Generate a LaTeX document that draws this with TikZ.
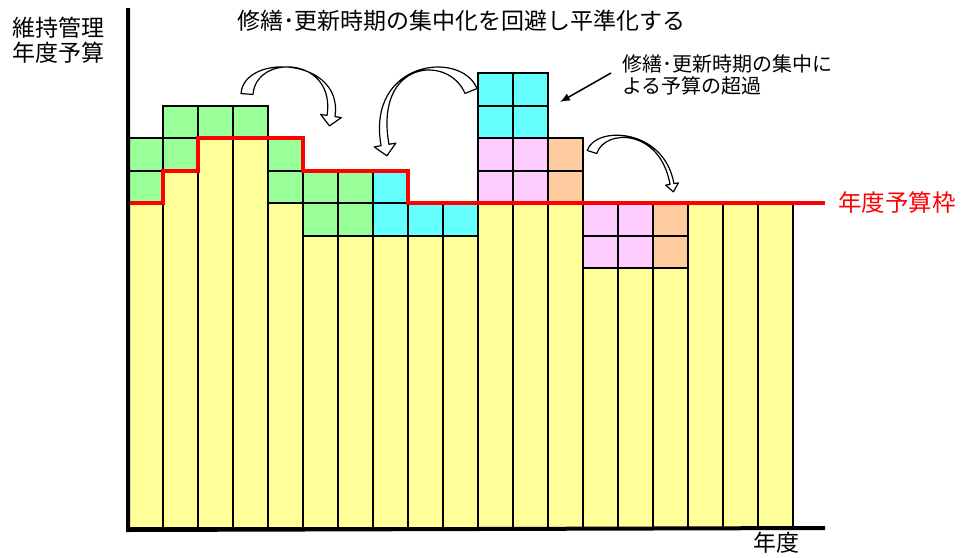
\documentclass[tikz,border=0pt]{standalone}
\usepackage{fontspec}
\setmainfont{Noto Sans CJK JP}
\usetikzlibrary{calc,arrows.meta}
\definecolor{cgreen}{RGB}{153,255,153}
\definecolor{cyellow}{RGB}{255,255,153}
\definecolor{ccyan}{RGB}{102,255,255}
\definecolor{cpink}{RGB}{255,204,255}
\definecolor{corange}{RGB}{255,204,160}
\definecolor{cred}{RGB}{255,0,0}
% tapered hollow curved arrow
% #1 name, #2 start, #3 c1, #4 c2, #5 end, #6 tail half width, #7 end half width, #8 head half width, #9 head length
\newcommand{\hollowarr}[9]{%
  \coordinate (#1s) at #2;
  \coordinate (#1a) at #3;
  \coordinate (#1b) at #4;
  \coordinate (#1e) at #5;
  \draw[fill=white, line width=1.2pt, line join=round]
    ($(#1s)!#6pt!90:(#1a)$) .. controls ($(#1a)!#6pt!-90:(#1s)$) and ($(#1b)!#7pt!90:(#1e)$) .. ($(#1e)!#7pt!-90:(#1b)$)
    -- ($(#1e)!#8pt!-90:(#1b)$) -- ($(#1e)!-#9pt!(#1b)$) -- ($(#1e)!#8pt!90:(#1b)$)
    -- ($(#1e)!#7pt!90:(#1b)$) .. controls ($(#1b)!#7pt!-90:(#1e)$) and ($(#1a)!#6pt!90:(#1s)$) .. ($(#1s)!#6pt!-90:(#1a)$)
    -- cycle;
}
\tikzset{
  cellbox/.style={draw=black, line width=2pt},
  axisline/.style={draw=black, line width=4pt},
  budget/.style={draw=cred, line width=4pt, line join=miter},
  lbl/.style={inner sep=0pt, font=\fontsize{23}{25}\selectfont},
  smalllbl/.style={inner sep=0pt, font=\fontsize{20}{23}\selectfont},
}
\begin{document}
\begin{tikzpicture}[x=1pt, y=-1pt]
\useasboundingbox[fill=white] (0,0) rectangle (961,557);
% yellow bars
\foreach \i/\t in {0/0,1/1,2/2,3/2,4/0,5/-1,6/-1,7/-1,8/-1,9/-1,10/0,11/0,12/0,13/-2,14/-2,15/-2,16/0,17/0,18/0}
  \draw[cellbox, fill=cyellow] ({128+35*\i},528) rectangle ({163+35*\i},{203-32.5*\t});
% cells above
\foreach \i/\k/\c in {0/0/cgreen,0/1/cgreen,1/1/cgreen,1/2/cgreen,2/2/cgreen,3/2/cgreen,
  4/0/cgreen,4/1/cgreen,5/-1/cgreen,5/0/cgreen,6/-1/cgreen,6/0/cgreen,
  7/-1/ccyan,7/0/ccyan,8/-1/ccyan,9/-1/ccyan,
  10/0/cpink,10/1/cpink,10/2/ccyan,10/3/ccyan,
  11/0/cpink,11/1/cpink,11/2/ccyan,11/3/ccyan,
  12/0/corange,12/1/corange,
  13/-2/cpink,13/-1/cpink,14/-2/cpink,14/-1/cpink,15/-2/corange,15/-1/corange}
  \draw[cellbox, fill=\c] ({128+35*\i},{203-32.5*\k}) rectangle ({163+35*\i},{203-32.5*(\k+1)});
% budget line
\draw[budget] (128,203) -- (163,203) -- (163,170.5) -- (198,170.5) -- (198,138) -- (303,138)
  -- (303,170.5) -- (408,170.5) -- (408,203) -- (825,203);
% axes
\coordinate (origin) at (128,528);
\coordinate (ytop) at (128,8);
\coordinate (xend) at (825,528);
\draw[axisline] (ytop) -- ($(origin)+(0,2)$) -- (xend);
% curved hollow arrows
\hollowarr{ha}{(247,94)}{(250,53)}{(340,57)}{(331,116)}{6}{4}{10.5}{10}
\hollowarr{hb}{(471,91)}{(455,52)}{(370,60)}{(385,145)}{6.5}{4}{11}{11}
\hollowarr{hc}{(592,152)}{(600,127)}{(662,128)}{(672,184)}{5}{2}{6.5}{8}
% pointer arrow
\coordinate (annT) at (611,73);
\coordinate (annH) at (560,102);
\draw[line width=1.5pt, -{Latex[length=10pt,width=8pt]}] (annT) -- (annH);
% texts
\node[lbl] (yl1) at (58.5,27.5) {維持管理};
\node[lbl] (yl2) at (58.5,52.5) {年度予算};
\node[lbl, anchor=west] (title) at (237,21) {修繕･更新時期の集中化を回避し平準化する};
\node[smalllbl, anchor=west] (ann1) at (622,63.5) {修繕･更新時期の集中に};
\node[smalllbl, anchor=west] (ann2) at (622,86) {よる予算の超過};
\node[lbl, anchor=west, text=cred, font=\fontsize{23.5}{25}\selectfont] (bud) at (838,202.5) {年度予算枠};
\node[lbl] (xl) at (776,543) {年度};
\end{tikzpicture}
\end{document}
